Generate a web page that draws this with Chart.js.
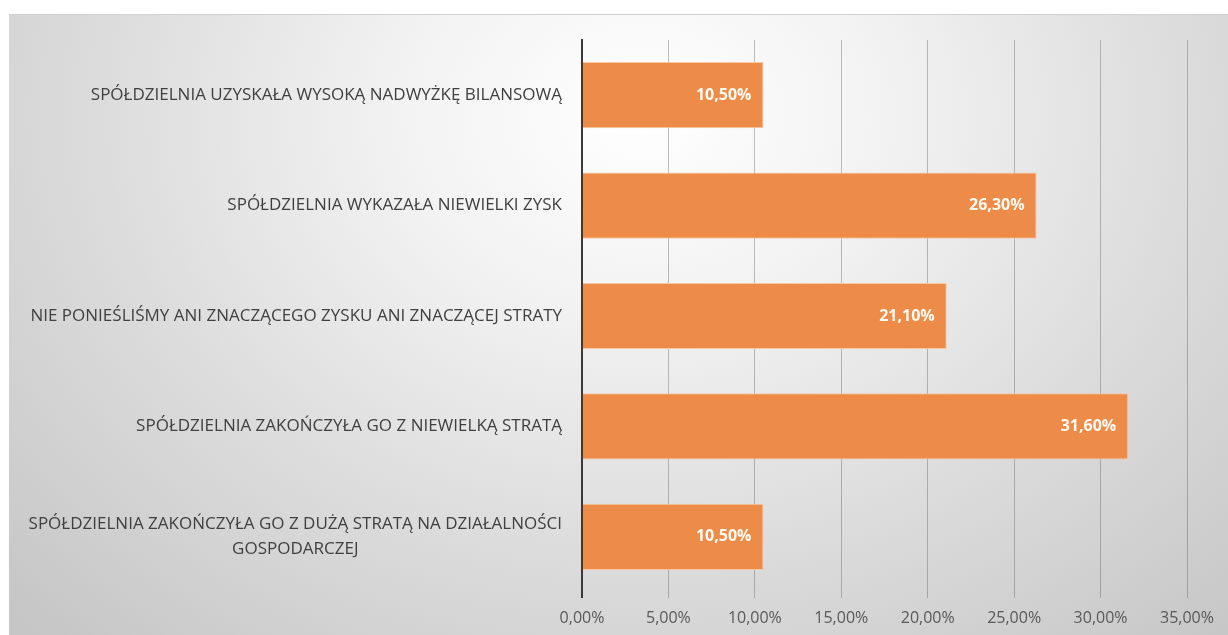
<!DOCTYPE html>
<html>
<head>
<meta charset="utf-8">
<script src="https://cdn.jsdelivr.net/npm/chart.js@4/dist/chart.umd.min.js"></script>
<style>
  html, body { margin: 0; padding: 0; background: #fff; }
  #frame {
    position: absolute; left: 9px; top: 14px; width: 1219px; height: 621px;
    background: radial-gradient(ellipse 72% 115% at 52% 16%, #ffffff 0%, #f2f2f2 28%, #dcdcdc 62%, #c6c6c6 100%);
    border-top: 1px solid #d0d0d0;
    box-sizing: border-box;
  }
  #chart { display: block; }
</style>
</head>
<body>
<div id="frame"><canvas id="chart" width="1219" height="620"></canvas></div>
<script>
// ── Data ────────────────────────────────────────────────────────────────
const categories = [
  'SPÓŁDZIELNIA UZYSKAŁA WYSOKĄ NADWYŻKĘ BILANSOWĄ',
  'SPÓŁDZIELNIA WYKAZAŁA NIEWIELKI ZYSK',
  'NIE PONIEŚLIŚMY ANI ZNACZĄCEGO ZYSKU ANI ZNACZĄCEJ STRATY',
  'SPÓŁDZIELNIA ZAKOŃCZYŁA GO Z NIEWIELKĄ STRATĄ',
  ['SPÓŁDZIELNIA ZAKOŃCZYŁA GO Z DUŻĄ STRATĄ NA DZIAŁALNOŚCI', 'GOSPODARCZEJ']
];
const values   = [10.5, 26.3, 21.1, 31.6, 10.5];
const xMin     = 0;
const xMax     = 35;
const xStep    = 5;

const BAR   = '#ED8B48';
const FONT  = '"Open Sans", "DejaVu Sans", sans-serif';
const pct   = v => v.toFixed(2).replace('.', ',') + '%';

// ── Plugins: category labels (centered multi-line) + value labels ──────
const catLabels = {
  id: 'catLabels',
  afterDraw(chart) {
    const { ctx } = chart;
    const y = chart.scales.y;
    const right = chart.chartArea.left - 20;
    ctx.save();
    ctx.font = '17px ' + FONT;
    ctx.fillStyle = '#404040';
    ctx.textBaseline = 'middle';
    categories.forEach((lab, i) => {
      const lines = Array.isArray(lab) ? lab : [lab];
      const cy = y.getPixelForTick(i);
      const lh = 25;
      const w = Math.max(...lines.map(l => ctx.measureText(l).width));
      lines.forEach((l, j) => {
        const ly = cy + (j - (lines.length - 1) / 2) * lh;
        if (lines.length > 1) { ctx.textAlign = 'center'; ctx.fillText(l, right - w / 2, ly); }
        else { ctx.textAlign = 'right'; ctx.fillText(l, right, ly); }
      });
    });
    ctx.restore();
  }
};

const valueLabels = {
  id: 'valueLabels',
  afterDatasetsDraw(chart) {
    const { ctx } = chart;
    const meta = chart.getDatasetMeta(0);
    ctx.save();
    ctx.font = 'bold 16px ' + FONT;
    ctx.fillStyle = '#fffaf2';
    ctx.textAlign = 'right';
    ctx.textBaseline = 'middle';
    meta.data.forEach((bar, i) => {
      ctx.fillText(pct(values[i]), bar.x - 12, bar.y);
    });
    ctx.restore();
  }
};

// ── Chart ───────────────────────────────────────────────────────────────
new Chart(document.getElementById('chart').getContext('2d'), {
  type: 'bar',
  data: {
    labels: categories,
    datasets: [{
      data: values,
      backgroundColor: BAR,
      borderColor: '#f7c8a3',
      borderWidth: 1,
      barPercentage: 0.6,
      categoryPercentage: 1.0
    }]
  },
  options: {
    indexAxis: 'y',
    responsive: false,
    animation: false,
    layout: { padding: { top: 25, right: 41, left: 0, bottom: 0 } },
    plugins: { legend: { display: false }, tooltip: { enabled: false } },
    scales: {
      x: {
        min: xMin, max: xMax,
        ticks: {
          stepSize: xStep,
          color: '#595959',
          font: { family: FONT, size: 16 },
          padding: 11,
          callback: v => pct(v)
        },
        grid: {
          color: ctx => ctx.tick && ctx.tick.value === 0 ? '#3a3a3a' : 'rgba(90,90,90,0.38)',
          lineWidth: ctx => ctx.tick && ctx.tick.value === 0 ? 2 : 1,
          tickLength: 6
        },
        border: { display: false },
        afterFit: s => { s.height = 43; }
      },
      y: {
        ticks: { display: false },
        grid: { display: false },
        border: { color: '#3a3a3a', width: 2 },
        afterFit: s => { s.width = 573; }
      }
    }
  },
  plugins: [catLabels, valueLabels]
});
</script>
</body>
</html>
